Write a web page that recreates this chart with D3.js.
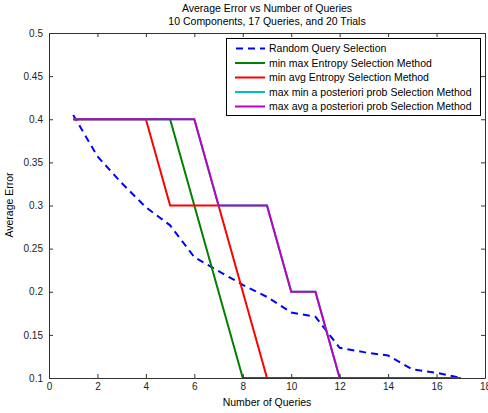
<html>
  <head>
    <meta charset="utf-8" />
    <script src="https://d3js.org/d3.v7.min.js"></script>
  </head>
  <style>
    body { margin: 0; background: #fff; }
    svg { font-family: "Liberation Sans", Arial, sans-serif; }
  </style>
  <body>
    <div id="viz"><svg></svg></div>
    <script>
      // data
      var queries = [1, 2, 3, 4, 5, 6, 7, 8, 9, 10, 11, 12, 13, 14, 15, 16, 17];
      var randomErr = [0.405, 0.357, 0.326, 0.298, 0.277, 0.24, 0.224, 0.208, 0.194, 0.176, 0.171, 0.135, 0.13, 0.126, 0.11, 0.106, 0.1];
      var minMaxEnt = [0.4, 0.4, 0.4, 0.4, 0.4, 0.3, 0.2, 0.1, 0.1, 0.1, 0.1, 0.1, 0.1, 0.1, 0.1, 0.1, 0.1];
      var minAvgEnt = [0.4, 0.4, 0.4, 0.4, 0.3, 0.3, 0.3, 0.2, 0.1, 0.1, 0.1, 0.1, 0.1, 0.1, 0.1, 0.1, 0.1];
      var maxMinPost = [0.4, 0.4, 0.4, 0.4, 0.4, 0.4, 0.3, 0.3, 0.3, 0.2, 0.2, 0.1, 0.1, 0.1, 0.1, 0.1, 0.1];
      var maxAvgPost = [0.4, 0.4, 0.4, 0.4, 0.4, 0.4, 0.3, 0.3, 0.3, 0.2, 0.2, 0.1, 0.1, 0.1, 0.1, 0.1, 0.1];
      var seriesNames = [
        "Random Query Selection",
        "min max Entropy Selection Method",
        "min avg Entropy Selection Method",
        "max min a posteriori prob Selection Method",
        "max avg a posteriori prob Selection Method"
      ];
      var seriesColors = ["#0000ff", "#008000", "#ff0000", "#00bfbf", "#bf00bf"];
      var xTicks = [0, 2, 4, 6, 8, 10, 12, 14, 16, 18];
      var yTicks = [0.1, 0.15, 0.2, 0.25, 0.3, 0.35, 0.4, 0.45, 0.5];

      var allSeries = [randomErr, minMaxEnt, minAvgEnt, maxMinPost, maxAvgPost];

      var pLeft = 49, pRight = 485, pTop = 33, pBottom = 378;

      var svg = d3.select("svg").attr("width", 488).attr("height", 413);

      var xScale = d3.scaleLinear().domain([0, 18]).range([pLeft, pRight]);
      var yScale = d3.scaleLinear().domain([0.1, 0.5]).range([pBottom, pTop]);

      // lines, later series drawn on top (like matlab)
      var line = d3.line()
        .x(function (d, i) { return xScale(queries[i]); })
        .y(function (d) { return yScale(d); });

      svg.selectAll("path.series")
        .data(allSeries)
        .enter()
        .append("path")
        .attr("class", "series")
        .attr("d", line)
        .attr("fill", "none")
        .attr("stroke", function (d, i) { return seriesColors[i]; })
        .attr("stroke-width", 2)
        .attr("stroke-dasharray", function (d, i) { return i == 0 ? "7,5" : null; });

      // axes with inward ticks on all four sides
      var fmtY = function (d) { return String(+d.toFixed(2)); };
      svg.append("g")
        .attr("transform", "translate(0," + pBottom + ")")
        .call(d3.axisBottom(xScale).tickValues(xTicks).tickSizeInner(-4).tickSizeOuter(0).tickPadding(5));
      svg.append("g")
        .attr("transform", "translate(0," + pTop + ")")
        .call(d3.axisTop(xScale).tickValues(xTicks).tickSizeInner(-4).tickSizeOuter(0).tickFormat(""));
      svg.append("g")
        .attr("transform", "translate(" + pLeft + ",0)")
        .call(d3.axisLeft(yScale).tickValues(yTicks).tickSizeInner(-4).tickSizeOuter(0).tickPadding(6).tickFormat(fmtY));
      svg.append("g")
        .attr("transform", "translate(" + pRight + ",0)")
        .call(d3.axisRight(yScale).tickValues(yTicks).tickSizeInner(-4).tickSizeOuter(0).tickFormat(""));

      svg.selectAll(".tick text").attr("font-size", 10).attr("fill", "#222")
        .attr("font-family", "Liberation Sans, Arial, sans-serif");
      svg.selectAll(".domain, .tick line").attr("stroke", "#333");

      // titles
      svg.append("text").attr("x", 267).attr("y", 12).attr("text-anchor", "middle")
        .attr("font-size", 10.5).text("Average Error vs Number of Queries");
      svg.append("text").attr("x", 267).attr("y", 25).attr("text-anchor", "middle")
        .attr("font-size", 10.5).text("10 Components, 17 Queries, and 20 Trials");
      svg.append("text").attr("x", 267).attr("y", 406).attr("text-anchor", "middle")
        .attr("font-size", 10.5).text("Number of Queries");
      svg.append("text").attr("transform", "translate(13,205) rotate(-90)").attr("text-anchor", "middle")
        .attr("font-size", 10.5).text("Average Error");

      // legend
      var lg = svg.append("g");
      lg.append("rect").attr("x", 226.5).attr("y", 38.5).attr("width", 254).attr("height", 77)
        .attr("fill", "#fff").attr("stroke", "#000");
      var rows = lg.selectAll("g.row").data(seriesNames).enter().append("g")
        .attr("transform", function (d, i) { return "translate(0," + (48.5 + i * 14.5) + ")"; });
      rows.append("line").attr("x1", 235).attr("x2", 265).attr("y1", 0).attr("y2", 0)
        .attr("stroke", function (d, i) { return seriesColors[i]; })
        .attr("stroke-width", 2)
        .attr("stroke-dasharray", function (d, i) { return i == 0 ? "7,5" : null; })
        .attr("stroke-dashoffset", function (d, i) { return i == 0 ? -1 : null; });
      rows.append("text").attr("x", 269).attr("y", 3.5).attr("font-size", 10.5).text(function (d) { return d; });
    </script>
  </body>
</html>
